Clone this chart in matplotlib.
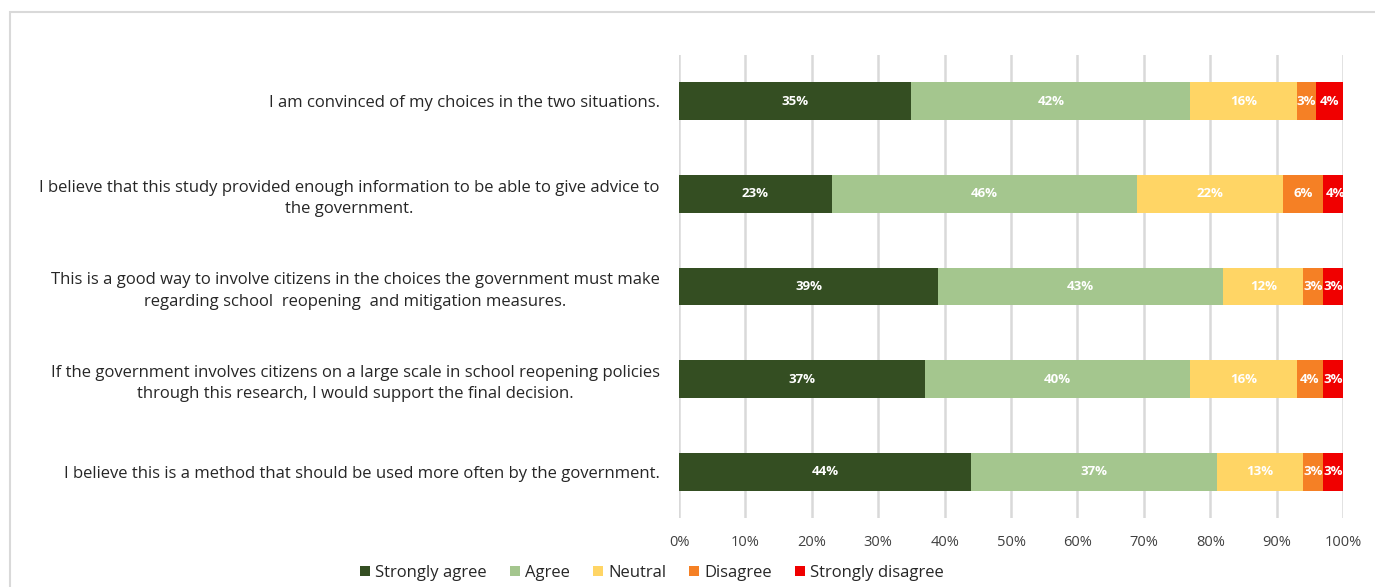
import numpy as np
import matplotlib.pyplot as plt
from matplotlib.patches import Rectangle

# statements, top to bottom
statements = [
    "I am convinced of my choices in the two situations.",
    "I believe that this study provided enough information to be able to give advice to\nthe government.",
    "This is a good way to involve citizens in the choices the government must make\nregarding school  reopening  and mitigation measures.",
    "If the government involves citizens on a large scale in school reopening policies\nthrough this research, I would support the final decision.",
    "I believe this is a method that should be used more often by the government.",
]

answers = ["Strongly agree", "Agree", "Neutral", "Disagree", "Strongly disagree"]

strongly_agree = [35, 23, 39, 37, 44]
agree = [42, 46, 43, 40, 37]
neutral = [16, 22, 12, 16, 13]
disagree = [3, 6, 3, 4, 3]
strongly_disagree = [4, 4, 3, 3, 3]

colors = ["#344e22", "#a4c68e", "#ffd565", "#f58025", "#f00000"]

xticks = [0, 10, 20, 30, 40, 50, 60, 70, 80, 90, 100]

plt.rcParams['font.family'] = ['Open Sans', 'DejaVu Sans']

fig = plt.figure(figsize=(13.75, 5.87), dpi=100)
fig.patches.append(Rectangle((10/1375, -0.1), 1.2, 1 - 12/587 + 0.1,
                             transform=fig.transFigure, fill=False,
                             edgecolor="#d9d9d9", linewidth=1.5))

ax = fig.add_axes([679/1375, 1 - 518/587, 664/1375, (518 - 55)/587])

series = [strongly_agree, agree, neutral, disagree, strongly_disagree]
y = np.arange(len(statements))
left = np.zeros(len(statements))
for vals, name, col in zip(series, answers, colors):
    vals = np.array(vals, dtype=float)
    bars = ax.barh(y, vals, left=left, height=0.41, color=col, label=name, zorder=3)
    for b, v, l in zip(bars, vals, left):
        cx = l + v / 2
        if l + v > 100:
            cx = l + (100 - l) / 2 + 0.3
        ax.text(cx, b.get_y() + b.get_height() / 2, f"{int(v)}%",
                ha="center", va="center", color="white", fontsize=9.5,
                fontweight="bold", zorder=4, clip_on=False)
    left += vals

ax.set_xlim(0, 100)
ax.set_ylim(len(statements) - 0.5, -0.5)
ax.set_xticks(xticks)
ax.set_xticklabels([f"{t}%" for t in xticks], fontsize=10.5, color="#404040")
ax.set_yticks(y)
ax.set_yticklabels(statements, fontsize=12, color="#262626", ha="right",
                   multialignment="center", linespacing=1.45)
ax.tick_params(axis="both", length=0)
ax.tick_params(axis="y", pad=14)
ax.tick_params(axis="x", pad=12)
ax.grid(axis="x", color="#d9d9d9", linewidth=1.8, zorder=0)
for s in ax.spines.values():
    s.set_visible(False)

fig.legend(loc="center", bbox_to_anchor=(652/1375, 1 - 573/587), ncol=5,
           frameon=False, fontsize=12, handlelength=0.6, handleheight=0.6,
           handletextpad=0.3, columnspacing=1.4, labelcolor="#262626")

fig.savefig("out.png", dpi=100)
